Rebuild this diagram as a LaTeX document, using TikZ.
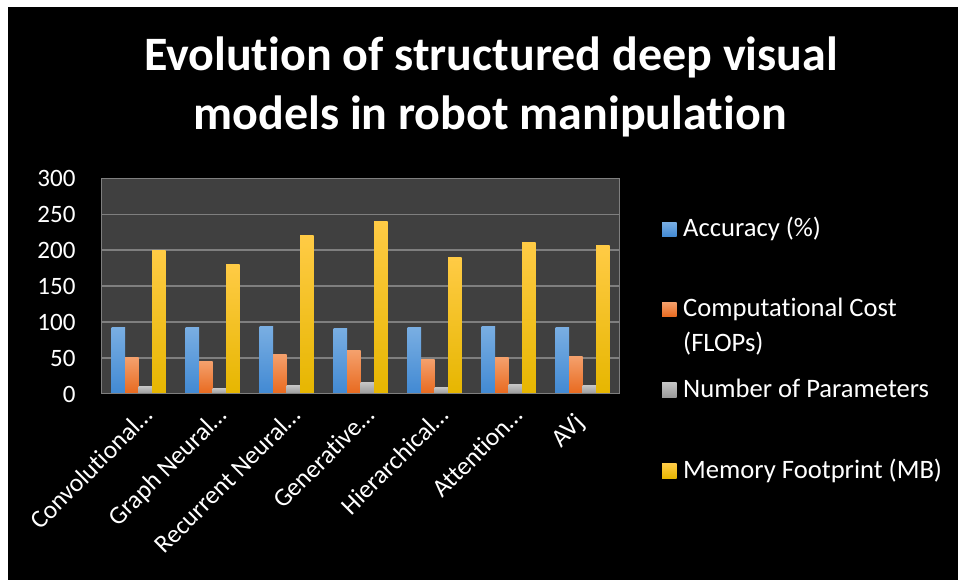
\documentclass[tikz,border=0pt]{standalone}
\usepackage{fontspec}
\setmainfont{Carlito}[Ligatures={NoCommon}]
\definecolor{plotbg}{HTML}{404040}
\definecolor{gridc}{HTML}{7F7F7F}
\definecolor{bluetop}{HTML}{79AEE2}
\definecolor{bluebot}{HTML}{4189D3}
\definecolor{orgtop}{HTML}{F4A06C}
\definecolor{orgbot}{HTML}{E8691E}
\definecolor{graytop}{HTML}{C4C4C4}
\definecolor{graybot}{HTML}{999999}
\definecolor{yeltop}{HTML}{FFCB45}
\definecolor{yelbot}{HTML}{E6B600}
\tikzset{
  ylab/.style={text=white, font=\fontsize{25}{30}\selectfont, inner sep=0pt, anchor=base east},
  xlab/.style={text=white, font=\fontsize{25.5}{30}\selectfont, inner sep=0pt, anchor=base east, rotate=45},
  leglab/.style={text=white, font=\fontsize{26.6}{35}\selectfont, inner sep=0pt, anchor=base west},
  titlelab/.style={text=white, font=\fontsize{48}{58}\selectfont\bfseries, inner sep=0pt, anchor=base},
  gridline/.style={draw=gridc, line width=1.3pt},
}
\begin{document}
\begin{tikzpicture}[x=1pt,y=-1pt]
\useasboundingbox (0,0) rectangle (958,580);
\fill[white] (0,0) rectangle (958,580);
\fill[black] (8,7) rectangle (958,580);
% title
\node[titlelab] (t1) at (491,71) {Evolution of structured deep visual};
\node[titlelab] (t2) at (490,130) {models in robot manipulation};
% plot area
\fill[plotbg] (101.5,178.3) rectangle (619.5,393.8);
\foreach \v in {50,100,...,300}{
  \pgfmathsetmacro{\yy}{393.8-\v*0.7183}
  \draw[gridline] (101.5,\yy) -- (619.5,\yy);
}
\foreach \v in {0,50,...,300}{
  \pgfmathsetmacro{\yy}{393.8-\v*0.7183+8.4}
  \node[ylab] (y\v) at (75.7,\yy) {\v};
}
% bars
\foreach \i/\a/\b/\c/\d in {1/92/50/10/200, 2/92/45/7.5/180, 3/93.5/55/11.5/220, 4/91/60/15.5/240, 5/92/48/9/190, 6/93.5/50.5/13/210, 7/92/52/11.5/206}{
  \pgfmathsetmacro{\xa}{101.5+74*(\i-1)+10}
  \pgfmathsetmacro{\xb}{\xa+13.5}
  \pgfmathsetmacro{\xc}{\xb+13.5}
  \pgfmathsetmacro{\xd}{\xc+13.5}
  \pgfmathsetmacro{\xe}{\xd+13.5}
  \pgfmathsetmacro{\ya}{393.8-\a*0.7183}
  \pgfmathsetmacro{\yb}{393.8-\b*0.7183}
  \pgfmathsetmacro{\yc}{393.8-\c*0.7183}
  \pgfmathsetmacro{\yd}{393.8-\d*0.7183}
  \shade[top color=bluetop, bottom color=bluebot] (\xa,\ya) rectangle (\xb,393.8);
  \shade[top color=orgtop, bottom color=orgbot] (\xb,\yb) rectangle (\xc,393.8);
  \shade[top color=graytop, bottom color=graybot] (\xc,\yc) rectangle (\xd,393.8);
  \shade[top color=yeltop, bottom color=yelbot] (\xd,\yd) rectangle (\xe,393.8);
}
\draw[draw=gridc, line width=1.3pt] (101.5,178.3) rectangle (619.5,393.8);
% category labels
\foreach \i/\t/\dx/\yy in {1/Convolutional…/16/417, 2/Graph Neural…/16/417, 3/Recurrent Neural…/16/417, 4/Generative…/16/417, 5/Hierarchical…/16/417, 6/Attention…/16/417, 7/AVj/3/424}{
  \pgfmathsetmacro{\cx}{101.5+74*(\i-0.5)+\dx}
  \node[xlab] (x\i) at (\cx,\yy) {\t};
}
% legend
\shade[top color=bluetop, bottom color=bluebot] (662,222) rectangle (676.7,236.7);
\node[leglab] (l1) at (683,236.7) {Accuracy (\%)};
\shade[top color=orgtop, bottom color=orgbot] (662,302) rectangle (676.7,316.7);
\node[leglab] (l2) at (683,316.7) {Computational Cost};
\node[leglab] (l2b) at (683,351.7) {(FLOPs)};
\shade[top color=graytop, bottom color=graybot] (662,382.6) rectangle (676.7,397.3);
\node[leglab] (l3) at (683,397.3) {Number of Parameters};
\shade[top color=yeltop, bottom color=yelbot] (662,463.6) rectangle (676.7,478.3);
\node[leglab] (l4) at (683,478.3) {Memory Footprint (MB)};
\end{tikzpicture}
\end{document}
